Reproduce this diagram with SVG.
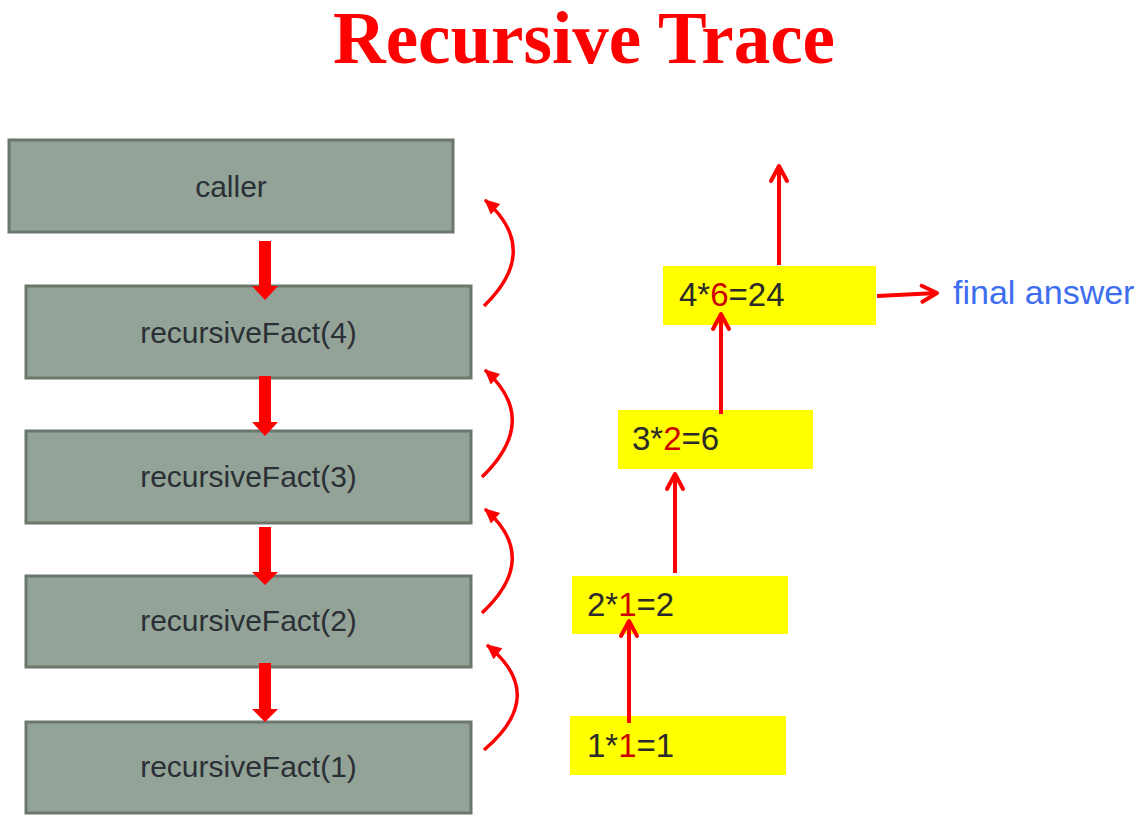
<svg xmlns="http://www.w3.org/2000/svg" width="1141" height="823" viewBox="0 0 1141 823">
<style>
.title{font-family:"Liberation Serif","Times New Roman",serif;font-weight:bold;font-size:73px;fill:#ff0000}
.box{fill:#93a397;stroke:#6b776d;stroke-width:3}
.btxt{font-family:"Liberation Sans",Arial,sans-serif;font-size:30px;fill:#2b2f36;text-anchor:middle}
.ybox{fill:#ffff00}
.ytxt{font-family:"Liberation Sans",Arial,sans-serif;font-size:33px;fill:#2b2b2b}
.hl{fill:#cc0000}
.fa{font-family:"Liberation Sans",Arial,sans-serif;font-size:34px;fill:#3d6ef0}
.thin{fill:none;stroke:#ff0000;stroke-width:4}
.curve{fill:none;stroke:#ff0000;stroke-width:3.5}
.thick{fill:#ff0000}
</style>
<defs>
<marker id="open" markerUnits="userSpaceOnUse" markerWidth="24" markerHeight="24" viewBox="-18 -12 24 24" refX="0" refY="0" orient="auto">
<path d="M-15,-8 L0,0 L-15,8" fill="none" stroke="#ff0000" stroke-width="4" stroke-linejoin="round" stroke-linecap="round"/>
</marker>
<marker id="solid" markerUnits="userSpaceOnUse" markerWidth="20" markerHeight="20" viewBox="-15 -10 20 20" refX="0" refY="0" orient="auto">
<path d="M-14,-7 L1,0 L-14,7 Z" fill="#ff0000"/>
</marker>
</defs>
<text class="title" x="584" y="63" text-anchor="middle">Recursive Trace</text>

<g id="caller">
<rect class="box" x="9" y="140" width="444" height="92"/>
<text class="btxt" x="231" y="197">caller</text>
</g>
<g id="rf4">
<rect class="box" x="26" y="286" width="445" height="92"/>
<text class="btxt" x="248.5" y="343">recursiveFact(4)</text>
</g>
<g id="rf3">
<rect class="box" x="26" y="431" width="445" height="92"/>
<text class="btxt" x="248.5" y="487">recursiveFact(3)</text>
</g>
<g id="rf2">
<rect class="box" x="26" y="576" width="445" height="91"/>
<text class="btxt" x="248.5" y="631">recursiveFact(2)</text>
</g>
<g id="rf1">
<rect class="box" x="26" y="722" width="445" height="91"/>
<text class="btxt" x="248.5" y="777">recursiveFact(1)</text>
</g>

<g id="r24">
<rect class="ybox" x="663" y="266" width="213" height="59"/>
<text class="ytxt" x="679" y="306">4*<tspan class="hl">6</tspan>=24</text>
</g>
<g id="r6">
<rect class="ybox" x="618" y="410" width="195" height="59"/>
<text class="ytxt" x="632" y="450">3*<tspan class="hl">2</tspan>=6</text>
</g>
<g id="r2">
<rect class="ybox" x="572" y="576" width="216" height="58"/>
<text class="ytxt" x="587" y="616">2*<tspan class="hl">1</tspan>=2</text>
</g>
<g id="r1">
<rect class="ybox" x="570" y="716" width="216" height="59"/>
<text class="ytxt" x="587" y="757">1*<tspan class="hl">1</tspan>=1</text>
</g>
<g id="final">
<text class="fa" x="953" y="304">final answer</text>
</g>

<g id="connectors">
<path class="thick" d="M259,241 H271 V286 H278 L265,300 L252,286 H259 Z"/>
<path class="thick" d="M259,376 H271 V422 H278 L265,436 L252,422 H259 Z"/>
<path class="thick" d="M259,527 H271 V572 H278 L265,585 L252,572 H259 Z"/>
<path class="thick" d="M259,663 H271 V709 H278 L265,722 L252,709 H259 Z"/>

<path class="curve" marker-end="url(#solid)" d="M484,306 Q542,250 485,200"/>
<path class="curve" marker-end="url(#solid)" d="M482,477 Q541,420 485,370"/>
<path class="curve" marker-end="url(#solid)" d="M482,613 Q541,558 485,509"/>
<path class="curve" marker-end="url(#solid)" d="M484,750 Q549,695 487,645"/>

<line class="thin" x1="779" y1="265" x2="779" y2="166" marker-end="url(#open)"/>
<line class="thin" x1="721" y1="414" x2="721" y2="314" marker-end="url(#open)"/>
<line class="thin" x1="675" y1="573" x2="675" y2="474" marker-end="url(#open)"/>
<line class="thin" x1="629" y1="723" x2="629" y2="621" marker-end="url(#open)"/>
<line class="thin" x1="877" y1="296" x2="937" y2="293" marker-end="url(#open)"/>
</g>
</svg>
